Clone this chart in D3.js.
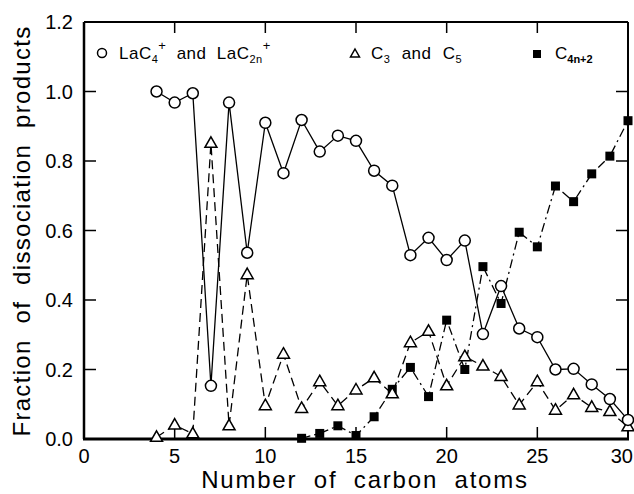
<!DOCTYPE html>
<html><head><meta charset="utf-8">
<script src="https://cdn.jsdelivr.net/npm/d3@7"></script>
<style>
body{margin:0;background:#fff;}
text{font-family:"Liberation Sans",Arial,sans-serif;fill:#000;}
</style></head>
<body>
<svg id="c" width="634" height="494"></svg>
<script>
const nCT = d3.range(4, 31);
const circleVals = [1.00,0.968,0.995,0.153,0.968,0.536,0.91,0.765,0.918,0.827,0.873,0.858,0.772,0.729,0.529,0.579,0.515,0.571,0.302,0.44,0.318,0.293,0.20,0.202,0.157,0.115,0.055];
const triVals = [0.005,0.04,0.015,0.851,0.038,0.473,0.096,0.244,0.088,0.165,0.096,0.141,0.176,0.13,0.277,0.31,0.153,0.237,0.21,0.18,0.098,0.165,0.083,0.127,0.091,0.079,0.035];
const nSq = d3.range(12, 31);
const sqVals = [0.002,0.016,0.038,0.01,0.064,0.143,0.206,0.122,0.342,0.20,0.496,0.39,0.595,0.553,0.728,0.683,0.763,0.814,0.916];
const xTicks = [0,5,10,15,20,25,30];
const yTicks = [0,0.2,0.4,0.6,0.8,1.0,1.2];

const svg = d3.select("#c");
const L=84, R=628, T=22, B=439;
const x = d3.scaleLinear().domain([0,30]).range([L,R]);
const y = d3.scaleLinear().domain([0,1.2]).range([B,T]);

const g = svg.append("g");
g.selectAll(".yl").data(yTicks.slice(1,-1)).enter().append("line")
  .attr("x1",L).attr("x2",L+12).attr("y1",d=>y(d)).attr("y2",d=>y(d)).attr("stroke","#000").attr("stroke-width",1.5);
g.selectAll(".yr").data(yTicks.slice(1,-1)).enter().append("line")
  .attr("x1",R).attr("x2",R-12).attr("y1",d=>y(d)).attr("y2",d=>y(d)).attr("stroke","#000").attr("stroke-width",1.5);
g.selectAll(".xb").data(xTicks.slice(1,-1)).enter().append("line")
  .attr("x1",d=>x(d)).attr("x2",d=>x(d)).attr("y1",B).attr("y2",B-12).attr("stroke","#000").attr("stroke-width",1.5);
g.selectAll(".xt").data(xTicks.slice(1,-1)).enter().append("line")
  .attr("x1",d=>x(d)).attr("x2",d=>x(d)).attr("y1",T).attr("y2",T+11).attr("stroke","#000").attr("stroke-width",1.5);

svg.append("line").attr("x1",L).attr("x2",R).attr("y1",T).attr("y2",T).attr("stroke","#000").attr("stroke-width",2);
svg.append("line").attr("x1",R).attr("x2",R).attr("y1",T).attr("y2",B).attr("stroke","#000").attr("stroke-width",2);
svg.append("line").attr("x1",L).attr("x2",L).attr("y1",T).attr("y2",B).attr("stroke","#000").attr("stroke-width",2.5);
svg.append("line").attr("x1",L-1).attr("x2",R+1).attr("y1",B).attr("y2",B).attr("stroke","#000").attr("stroke-width",3);

svg.selectAll(".ytl").data(yTicks).enter().append("text")
  .attr("x",73).attr("y",d=>y(d)+7).attr("text-anchor","end").attr("font-size",20)
  .text(d=>d3.format(".1f")(d));
svg.selectAll(".xtl").data(xTicks).enter().append("text")
  .attr("x",d=>d===30 ? 633 : x(d)).attr("y",463)
  .attr("text-anchor",d=>d===30 ? "end" : "middle").attr("font-size",20)
  .text(d=>d);

svg.append("text").attr("x",365).attr("y",488).attr("text-anchor","middle")
  .attr("font-size",24).attr("letter-spacing",1.8).attr("word-spacing",8).text("Number of carbon atoms");
svg.append("text").attr("transform","translate(30,231) rotate(-90)").attr("text-anchor","middle")
  .attr("font-size",24).attr("letter-spacing",1.3).attr("word-spacing",8).text("Fraction of dissociation products");

const circData = nCT.map((n,i)=>({n,v:circleVals[i]}));
const triData = nCT.map((n,i)=>({n,v:triVals[i]}));
const sqData = nSq.map((n,i)=>({n,v:sqVals[i]}));
const line = d3.line().x(d=>x(d.n)).y(d=>y(d.v));
svg.append("path").datum(sqData).attr("d",line).attr("fill","none").attr("stroke","#000").attr("stroke-width",1.3).attr("stroke-dasharray","9,4,2,4");
svg.append("path").datum(triData).attr("d",line).attr("fill","none").attr("stroke","#000").attr("stroke-width",1.3).attr("stroke-dasharray","9,5");
svg.append("path").datum(circData).attr("d",line).attr("fill","none").attr("stroke","#000").attr("stroke-width",1.3);

const triPath = "M0,-6.5L6,4L-6,4Z";
svg.selectAll(".sq").data(sqData).enter().append("rect")
  .attr("x",d=>x(d.n)-4.5).attr("y",d=>y(d.v)-4.5).attr("width",9).attr("height",9).attr("fill","#000");
svg.selectAll(".tr").data(triData).enter().append("path")
  .attr("d",triPath).attr("transform",d=>`translate(${x(d.n)},${y(d.v)})`)
  .attr("fill","#fff").attr("stroke","#000").attr("stroke-width",1.5);
svg.selectAll(".ci").data(circData).enter().append("circle")
  .attr("cx",d=>x(d.n)).attr("cy",d=>y(d.v)).attr("r",5.5)
  .attr("fill","#fff").attr("stroke","#000").attr("stroke-width",1.5);

// legend
svg.append("circle").attr("cx",102).attr("cy",53).attr("r",4.5).attr("fill","#fff").attr("stroke","#000").attr("stroke-width",1.5);
const t1 = svg.append("text").attr("x",119).attr("y",59).attr("font-size",17).attr("letter-spacing",0.5).attr("word-spacing",5);
t1.append("tspan").text("LaC");
t1.append("tspan").attr("font-size",11).attr("dy",4).text("4");
t1.append("tspan").attr("font-size",13).attr("dy",-13).text("+");
t1.append("tspan").attr("dy",9).text(" and LaC");
t1.append("tspan").attr("font-size",11).attr("dy",4).text("2n");
t1.append("tspan").attr("font-size",13).attr("dy",-13).text("+");

svg.append("path").attr("d","M0,-5L4.5,3L-4.5,3Z").attr("transform","translate(355,54)").attr("fill","#fff").attr("stroke","#000").attr("stroke-width",1.5);
const t2 = svg.append("text").attr("x",371).attr("y",59).attr("font-size",17).attr("letter-spacing",0.5).attr("word-spacing",6);
t2.append("tspan").text("C");
t2.append("tspan").attr("font-size",11).attr("dy",4).text("3");
t2.append("tspan").attr("dy",-4).text(" and C");
t2.append("tspan").attr("font-size",11).attr("dy",4).text("5");

svg.append("rect").attr("x",533).attr("y",50).attr("width",8).attr("height",8).attr("fill","#000");
const t3 = svg.append("text").attr("x",555).attr("y",59).attr("font-size",17);
t3.append("tspan").text("C");
t3.append("tspan").attr("font-size",11).attr("font-weight","bold").attr("dy",4).text("4n+2");
</script>
</body></html>
